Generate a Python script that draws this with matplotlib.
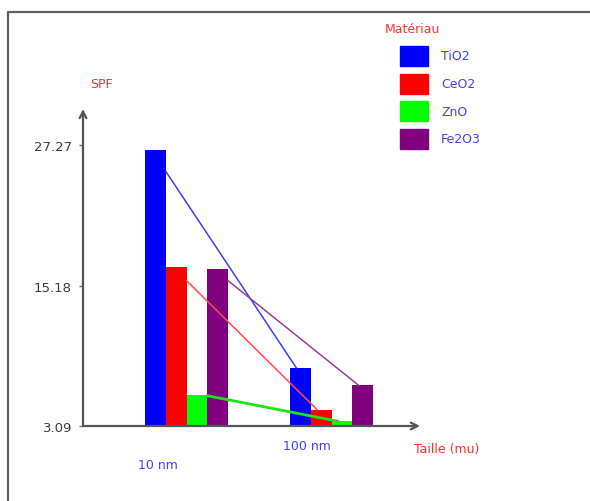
import matplotlib.pyplot as plt
from matplotlib.lines import Line2D
from matplotlib.patches import Rectangle

# donnees
tailles = ['10 nm', '100 nm']
materiaux = ['TiO2', 'CeO2', 'ZnO', 'Fe2O3']
couleurs = ['#0000ff', '#ff0000', '#00ff00', '#800080']
couleurs_lignes = ['#3c3cff', '#ff4b4b', '#19e619', '#9a3c9a']
spf_10nm = [26.8, 16.8, 5.8, 16.6]
spf_100nm = [8.1, 4.5, 3.5, 6.6]
# debut des lignes de tendance (un peu sous le haut des barres)
ligne_10nm = [25.0, 15.6, 5.7, 15.6]
graduations = [3.09, 15.18, 27.27]

W, H = 590, 502
fig = plt.figure(figsize=(W / 100, H / 100), dpi=100)
fig.patch.set_facecolor('white')


def px(x, y):
    """pixels (origine en haut a gauche) -> coordonnees figure"""
    return x / W, 1 - y / H


# cadre gris
fig.add_artist(Line2D([8 / W, 8 / W, 1], [0, 1 - 13 / H, 1 - 13 / H],
                      transform=fig.transFigure, color='#606060', lw=1.6))

ax = fig.add_axes([83 / W, (H - 427) / H, (420 - 83) / W, (427 - 110) / H])
ax.set_xlim(-0.714, 1.61)
ax.set_ylim(3.09, 30.37)
for s in ax.spines.values():
    s.set_visible(False)

larg = 0.143
for i, m in enumerate(materiaux):
    x0 = -1.5 * larg + i * larg
    ax.bar([x0, 1 + x0], [spf_10nm[i] - 3.09, spf_100nm[i] - 3.09], bottom=3.09,
           width=larg, color=couleurs[i], align='center', zorder=2)
    ax.plot([x0 + larg / 2, 1 + x0 - larg / 2 + 0.3 * larg],
            [ligne_10nm[i], spf_100nm[i]], color=couleurs_lignes[i],
            lw=2 if m == 'ZnO' else 1.1, zorder=3)

# axes avec fleches
ax.annotate('', xy=(0, 1.0), xytext=(0, 0), xycoords='axes fraction',
            arrowprops=dict(arrowstyle='->', color='#555555', lw=1.6,
                            shrinkA=0, shrinkB=0, mutation_scale=12))
ax.annotate('', xy=(1.0, 0), xytext=(0, 0), xycoords='axes fraction',
            arrowprops=dict(arrowstyle='->', color='#555555', lw=1.6,
                            shrinkA=0, shrinkB=0, mutation_scale=12))

ax.set_xticks([])
ax.set_yticks(graduations)
ax.set_yticklabels(['%.2f' % g for g in graduations], fontsize=9.5, color='#3a3a50')
ax.tick_params(axis='y', length=3, width=1, color='#777777', pad=5)

# etiquettes des tailles
ax.text(-0.197, -39 / 317, tailles[0], transform=ax.get_xaxis_transform(),
        ha='center', va='center', fontsize=9, color='#4040ff')
ax.text(0.83, -20 / 317, tailles[1], transform=ax.get_xaxis_transform(),
        ha='center', va='center', fontsize=9, color='#4040ff')

fig.text(*px(101, 85), 'SPF', ha='center', va='center', fontsize=9, color='#ff3030')
fig.text(*px(447, 450), 'Taille (mu)', ha='center', va='center', fontsize=9,
         color='#ff3030')

# legende
fig.text(*px(385, 30), 'Matériau', ha='left', va='center', fontsize=9,
         color='#ff3030')
for i, m in enumerate(materiaux):
    y = 47 + i * 27.5
    fig.add_artist(Rectangle(px(400, y + 20), 28 / W, 20 / H,
                             transform=fig.transFigure, color=couleurs[i]))
    fig.text(*px(441, y + 10), m, ha='left', va='center', fontsize=9,
             color='#4040ff')

fig.savefig('out.png', dpi=100)
